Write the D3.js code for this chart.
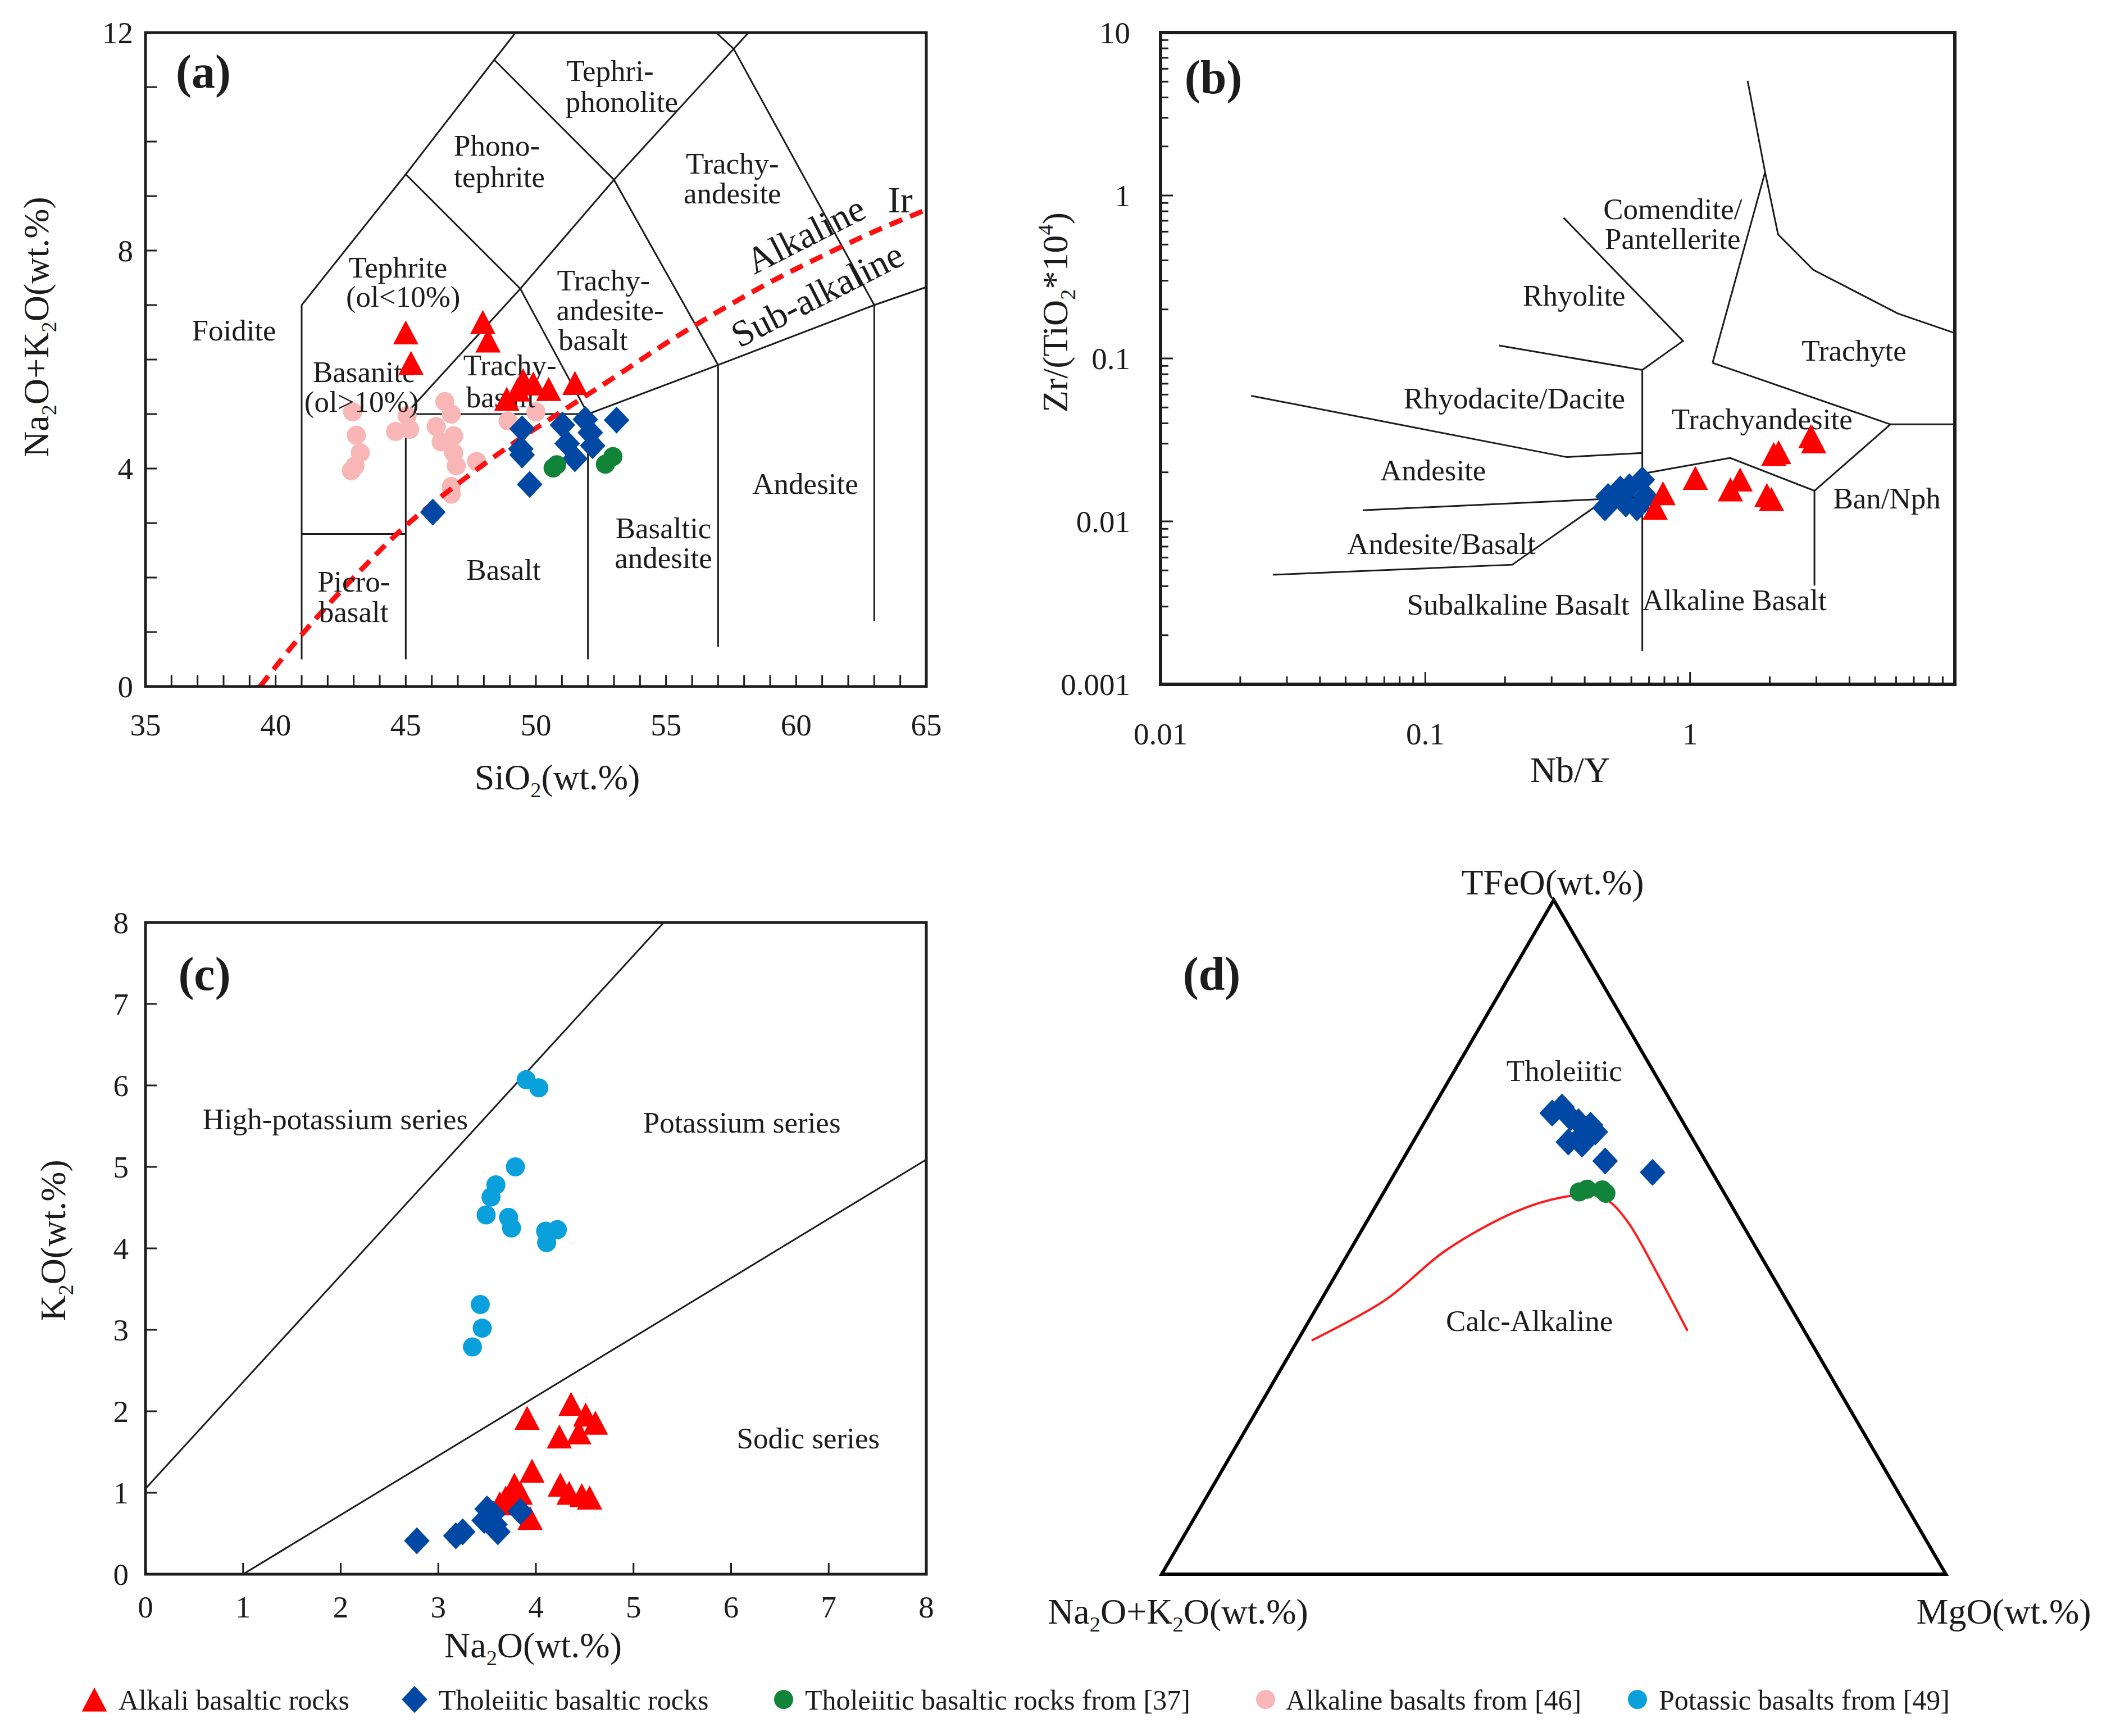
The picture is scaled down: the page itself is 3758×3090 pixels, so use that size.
<!DOCTYPE html>
<html><head><meta charset="utf-8">
<script src="https://cdn.jsdelivr.net/npm/d3@7"></script>
<style>
body{margin:0;background:#fff;}
text{font-family:"Liberation Serif","Times New Roman",serif;fill:#1c1c1c;}
</style>
</head><body>
<svg id="chart" width="3758" height="3090" xmlns="http://www.w3.org/2000/svg"></svg>
<script>
// ---------------- DATA ----------------
// (a) TAS diagram: [SiO2, Na2O+K2O]
const tasAlkali = [[45.0,6.50],[45.2,5.94],[47.96,6.69],[48.16,6.35],[48.88,5.28],[49.3,5.45],[49.51,5.62],[49.9,5.56],[50.49,5.46],[51.5,5.57]];
const tasTholeiitic = [[46.04,3.2],[49.47,4.73],[49.42,4.36],[49.47,4.25],[49.76,3.71],[51.02,4.8],[51.2,4.46],[51.9,4.9],[51.5,4.18],[52.18,4.42],[53.1,4.89],[52.09,4.66]];
const tasTholeiitic37 = [[50.66,4.01],[50.8,4.07],[52.67,4.08],[52.96,4.22]];
const tasAlkaline46 = [[42.96,5.04],[43.1,4.61],[43.25,4.29],[42.91,3.96],[43.05,4.05],[44.61,4.68],[45.05,4.97],[45.15,4.72],[46.5,5.23],[46.75,5.0],[46.17,4.77],[46.84,4.6],[46.36,4.49],[46.84,4.29],[46.94,4.05],[47.72,4.13],[46.75,3.67],[46.75,3.53],[48.93,4.87],[50.0,5.04]];
const tasBoundaries = [
  [[41,0.5],[41,7],[45,9.4],[48.4,11.5],[49.22,12]],
  [[41,2.8],[45,2.8]],
  [[45,0.5],[45,5],[52,5]],
  [[45,5],[49.4,7.3],[53,9.3],[57.6,11.7],[58.17,12]],
  [[45,9.4],[49.4,7.3],[52,5]],
  [[52,0.5],[52,5],[57,5.9],[63,7],[65,7.33]],
  [[57,0.73],[57,5.9],[53,9.3],[48.4,11.5]],
  [[63,1.2],[63,7],[57.6,11.7],[56.93,12]]
];
const irvineCurve = [[39.4,0],[41,0.95],[43,2.0],[45,2.95],[47,3.72],[49,4.42],[51,5.05],[53,5.67],[55,6.3],[57,6.88],[59,7.42],[61,7.9],[63,8.35],[65,8.75]];
const tasLabels = [
  ["Tephri-",52.85,11.3],["phonolite",53.3,10.74],["Phono-",48.5,9.93],["tephrite",48.6,9.36],
  ["Trachy-",57.55,9.6],["andesite",57.55,9.06],["Tephrite",44.7,7.7],["(ol<10%)",44.9,7.16],
  ["Foidite",38.4,6.54],["Trachy-",52.6,7.46],["andesite-",52.85,6.91],["basalt",52.2,6.37],
  ["Basanite",43.4,5.78],["(ol>10%)",43.3,5.23],["Trachy-",49.0,5.9],["basalt",48.65,5.32],
  ["Andesite",60.35,3.73],["Basaltic",54.9,2.91],["andesite",54.9,2.37],["Basalt",48.76,2.15],
  ["Picro-",43.0,1.93],["basalt",43.0,1.38]
];
const tasXTicks = [35,40,45,50,55,60,65];
const tasYTicks = [0,4,8,12];

// (b) Nb/Y vs Zr/(TiO2*10^4)
const wfAlkali = [[0.79,0.0149],[0.738,0.0121],[1.047,0.0185],[1.545,0.0181],[1.42,0.0157],[1.95,0.0145],[2.03,0.0137],[2.16,0.0266],[2.07,0.0259],[2.86,0.0333],[2.93,0.031]];
const wfTholeiitic = [[0.477,0.0121],[0.49,0.0142],[0.545,0.0158],[0.572,0.0128],[0.59,0.0163],[0.63,0.0121],[0.66,0.018],[0.68,0.0142]];
const wfBoundaries = [
  [[0.333,0.73],[0.94,0.128],[0.66,0.085],[0.66,0.0016]],
  [[0.19,0.12],[0.66,0.085]],
  [[0.022,0.059],[0.342,0.0248],[0.66,0.0263]],
  [[0.058,0.0117],[0.51,0.0138],[0.66,0.0142]],
  [[0.0266,0.0047],[0.213,0.00542],[0.66,0.0196],[1.416,0.0245],[2.95,0.0154],[2.95,0.00404]],
  [[2.95,0.0154],[5.71,0.0394],[10,0.0394]],
  [[1.216,0.094],[5.71,0.0394]],
  [[1.216,0.094],[1.92,1.39],[1.65,5.05]],
  [[1.92,1.39],[2.15,0.577],[2.92,0.35],[6.08,0.189],[10,0.143]]
];
const wfLabels = [
  ["Comendite/",0.86,0.83],["Pantellerite",0.86,0.545],["Rhyolite",0.365,0.244],["Trachyte",4.16,0.112],
  ["Rhyodacite/Dacite",0.217,0.057],["Trachyandesite",1.87,0.0425],["Andesite",0.107,0.0207],
  ["Ban/Nph",5.54,0.0139],["Andesite/Basalt",0.115,0.0073],["Subalkaline Basalt",0.224,0.0031],["Alkaline Basalt",1.47,0.0033]
];
const wfXTicks = [0.01,0.1,1];
const wfXTickLabels = ["0.01","0.1","1"];
const wfYTicks = [10,1,0.1,0.01,0.001];
const wfYTickLabels = ["10","1","0.1","0.01","0.001"];

// (c) Na2O vs K2O
const kPotassic49 = [[3.9,6.07],[4.03,5.97],[3.79,5.0],[3.59,4.78],[3.54,4.63],[3.49,4.41],[3.72,4.38],[3.75,4.25],[4.1,4.21],[4.22,4.23],[4.11,4.07],[3.43,3.31],[3.45,3.02],[3.35,2.79]];
const kAlkali = [[3.91,1.92],[4.36,2.09],[4.51,1.96],[4.61,1.86],[4.24,1.69],[4.44,1.74],[3.96,1.27],[4.25,1.10],[4.34,1.0],[4.47,0.97],[4.55,0.94],[3.78,1.10],[3.69,0.94],[3.84,1.0],[3.94,0.69],[3.63,0.87]];
const kTholeiitic = [[2.78,0.41],[3.18,0.47],[3.25,0.52],[3.5,0.8],[3.56,0.74],[3.47,0.66],[3.61,0.52],[3.58,0.61],[3.84,0.77]];
const kBoundaries = [[[0,1.05],[5.31,8]],[[1.0,0],[8,5.09]]];
const kLabels = [["High-potassium series",1.945,5.59],["Potassium series",6.11,5.55],["Sodic series",6.79,1.67]];
const kTicks = [0,1,2,3,4,5,6,7,8];

// (d) AFM ternary: [A = Na2O+K2O, F = TFeO, M = MgO] (%)
const afmTholeiitic = [[16.0,68.4,15.6],[14.3,69.3,16.4],[14.0,67.7,18.3],[13.3,67.1,19.6],[12.0,66.6,21.4],[11.9,65.6,22.5],[13.4,65.4,21.2],[16.1,64.1,19.8],[14.5,63.8,21.7],[12.8,61.3,25.9],[7.6,59.6,32.8]];
const afmTholeiitic37 = [[18.4,56.7,24.9],[17.2,57.1,25.7],[15.3,57.0,27.7],[15.1,56.5,28.4]];
const afmBoundary = [[63.6,34.7,1.8],[51.1,40.7,8.2],[39.8,48.0,12.2],[27.9,53.8,18.3],[21.0,55.9,23.1],[16.3,56.1,27.5],[15.1,55.0,29.9],[14.4,51.9,33.7],[14.5,44.6,40.9],[14.9,36.1,49.0]];
const afmLabels = [["Tholeiitic",11.3,74.7,14.0],["Calc-Alkaline",34.3,37.6,28.1]];

// legend
const legendNames = ["Alkali basaltic rocks","Tholeiitic basaltic rocks","Tholeiitic basaltic rocks from [37]","Alkaline basalts from [46]","Potassic basalts from [49]"];

// ---------------- DRAWING ----------------
const svg = d3.select("#chart");
svg.append("rect").attr("width",3758).attr("height",3090).attr("fill","#fff");
const ink = "#1c1c1c";
const col = {red:"#ff0000", blue:"#0048a3", green:"#12843a", pink:"#f8b6b6", cyan:"#0aa0dc"};
const fs = {tick:55, title:64, region:53, panel:84, legend:50};

function triPath(s){const h=s*0.95;return `M0,${-h/2}L${s/2},${h/2}L${-s/2},${h/2}Z`;}
function diaPath(r){return `M0,${-r}L${r*0.95},0L0,${r}L${-r*0.95},0Z`;}
const shapes = {
  tri: g=>g.append("path").attr("d",triPath(45)),
  dia: g=>g.append("path").attr("d",diaPath(24)),
  cir: g=>g.append("circle").attr("r",17)
};
function markers(g, data, px, py, shape, color){
  data.forEach(d=>{
    const m = g.append("g").attr("transform",`translate(${px(d)},${py(d)})`).attr("fill",color);
    shapes[shape](m);
  });
}
function rich(text, parts, size){
  let shift=0;
  parts.forEach(([t,m])=>{
    const target = m==="sub"? size*0.22 : m==="sup"? -size*0.4 : 0;
    text.append("tspan").attr("dy",target-shift).attr("font-size",m?size*0.6:size).text(t);
    shift=target;
  });
}
const line = d3.line();

// ---------- Panel (a) ----------
const gA = svg.append("g");
const ax = d3.scaleLinear().domain([35,65]).range([259,1649]);
const ay = d3.scaleLinear().domain([0,12]).range([1222,58]);
svg.append("clipPath").attr("id","clipA").append("rect")
  .attr("x",ax(35)).attr("y",ay(12)).attr("width",ax(65)-ax(35)).attr("height",ay(0)-ay(12));
tasBoundaries.forEach(b=>{
  gA.append("path").attr("d",line(b.map(p=>[ax(p[0]),ay(p[1])])))
    .attr("fill","none").attr("stroke",ink).attr("stroke-width",3);
});
markers(gA, tasAlkaline46, d=>ax(d[0]), d=>ay(d[1]), "cir", col.pink);
gA.append("path").attr("clip-path","url(#clipA)")
  .attr("d",d3.line().curve(d3.curveCatmullRom)(irvineCurve.map(p=>[ax(p[0]),ay(p[1])])))
  .attr("fill","none").attr("stroke","#ff1010").attr("stroke-width",9).attr("stroke-dasharray","24,15");
tasLabels.forEach(([t,x,y])=>{
  gA.append("text").attr("x",ax(x)).attr("y",ay(y)).attr("dy","0.35em").attr("text-anchor","middle")
    .attr("font-size",fs.region).text(t);
});
gA.append("text").attr("transform",`translate(${ax(60.35)},${ay(8.3)}) rotate(-27)`).attr("text-anchor","middle")
  .attr("dy","0.35em").attr("font-size",66).text("Alkaline");
gA.append("text").attr("transform",`translate(${ax(60.8)},${ay(7.2)}) rotate(-27)`).attr("text-anchor","middle")
  .attr("dy","0.35em").attr("font-size",66).text("Sub-alkaline");
gA.append("text").attr("x",ax(64.0)).attr("y",ay(8.94)).attr("dy","0.35em").attr("text-anchor","middle")
  .attr("font-size",66).text("Ir");
markers(gA, tasAlkali, d=>ax(d[0]), d=>ay(d[1]), "tri", col.red);
markers(gA, tasTholeiitic, d=>ax(d[0]), d=>ay(d[1]), "dia", col.blue);
markers(gA, tasTholeiitic37, d=>ax(d[0]), d=>ay(d[1]), "cir", col.green);
// ticks
d3.range(35,66).forEach(v=>gA.append("line").attr("x1",ax(v)).attr("x2",ax(v)).attr("y1",ay(0)).attr("y2",ay(0)-20).attr("stroke",ink).attr("stroke-width",3));
d3.range(0,13).forEach(v=>gA.append("line").attr("x1",ax(35)).attr("x2",ax(35)+20).attr("y1",ay(v)).attr("y2",ay(v)).attr("stroke",ink).attr("stroke-width",3));
gA.append("rect").attr("x",ax(35)).attr("y",ay(12)).attr("width",ax(65)-ax(35)).attr("height",ay(0)-ay(12))
  .attr("fill","none").attr("stroke",ink).attr("stroke-width",5);
tasXTicks.forEach(v=>gA.append("text").attr("x",ax(v)).attr("y",1290).attr("dy","0.35em").attr("text-anchor","middle").attr("font-size",fs.tick).text(v));
tasYTicks.forEach(v=>gA.append("text").attr("x",ax(35)-22).attr("y",ay(v)).attr("dy","0.35em").attr("text-anchor","end").attr("font-size",fs.tick).text(v));
rich(gA.append("text").attr("x",992).attr("y",1405).attr("text-anchor","middle"),[["SiO",""],["2","sub"],["(wt.%)",""]],fs.title);
rich(gA.append("text").attr("transform","translate(86,582) rotate(-90)").attr("text-anchor","middle"),
  [["Na",""],["2","sub"],["O+K",""],["2","sub"],["O(wt.%)",""]],fs.title);
gA.append("text").attr("x",362).attr("y",127).attr("dy","0.35em").attr("text-anchor","middle").attr("font-weight","bold").attr("font-size",fs.panel).text("(a)");

// ---------- Panel (b) ----------
const gB = svg.append("g");
const bx = d3.scaleLog().domain([0.01,10]).range([2066,3480]);
const by = d3.scaleLog().domain([0.001,10]).range([1218,58]);
wfBoundaries.forEach(b=>{
  gB.append("path").attr("d",line(b.map(p=>[bx(p[0]),by(p[1])])))
    .attr("fill","none").attr("stroke",ink).attr("stroke-width",3);
});
wfLabels.forEach(([t,x,y])=>{
  gB.append("text").attr("x",bx(x)).attr("y",by(y)).attr("dy","0.35em").attr("text-anchor","middle")
    .attr("font-size",fs.region).text(t);
});
markers(gB, wfTholeiitic, d=>bx(d[0]), d=>by(d[1]), "dia", col.blue);
markers(gB, wfAlkali, d=>bx(d[0]), d=>by(d[1]), "tri", col.red);
[0.01,0.1,1].forEach(dec=>d3.range(1,10).forEach(k=>{
  const v=dec*k, len=k===1?22:14;
  gB.append("line").attr("x1",bx(v)).attr("x2",bx(v)).attr("y1",by(0.001)).attr("y2",by(0.001)-len).attr("stroke",ink).attr("stroke-width",3);
}));
[0.001,0.01,0.1,1].forEach(dec=>d3.range(1,10).forEach(k=>{
  const v=dec*k, len=k===1?22:14;
  gB.append("line").attr("x1",bx(0.01)).attr("x2",bx(0.01)+len).attr("y1",by(v)).attr("y2",by(v)).attr("stroke",ink).attr("stroke-width",3);
}));
gB.append("rect").attr("x",bx(0.01)).attr("y",by(10)).attr("width",bx(10)-bx(0.01)).attr("height",by(0.001)-by(10))
  .attr("fill","none").attr("stroke",ink).attr("stroke-width",6);
wfXTicks.forEach((v,i)=>gB.append("text").attr("x",bx(v)).attr("y",1306).attr("dy","0.35em").attr("text-anchor","middle").attr("font-size",fs.tick).text(wfXTickLabels[i]));
wfYTicks.forEach((v,i)=>gB.append("text").attr("x",bx(0.01)-54).attr("y",by(v)).attr("dy","0.35em").attr("text-anchor","end").attr("font-size",fs.tick).text(wfYTickLabels[i]));
rich(gB.append("text").attr("x",2795).attr("y",1392).attr("text-anchor","middle"),[["Nb/Y",""]],fs.title);
rich(gB.append("text").attr("transform","translate(1900,556) rotate(-90)").attr("text-anchor","middle"),
  [["Zr/(TiO",""],["2","sub"],["*10",""],["4","sup"],[")",""]],fs.title);
gB.append("text").attr("x",2160).attr("y",137).attr("dy","0.35em").attr("text-anchor","middle").attr("font-weight","bold").attr("font-size",fs.panel).text("(b)");

// ---------- Panel (c) ----------
const gC = svg.append("g");
const cx = d3.scaleLinear().domain([0,8]).range([259,1649]);
const cy = d3.scaleLinear().domain([0,8]).range([2802,1642]);
kBoundaries.forEach(b=>{
  gC.append("path").attr("d",line(b.map(p=>[cx(p[0]),cy(p[1])])))
    .attr("fill","none").attr("stroke",ink).attr("stroke-width",3);
});
kLabels.forEach(([t,x,y])=>{
  gC.append("text").attr("x",cx(x)).attr("y",cy(y)).attr("dy","0.35em").attr("text-anchor","middle")
    .attr("font-size",fs.region).text(t);
});
markers(gC, kPotassic49, d=>cx(d[0]), d=>cy(d[1]), "cir", col.cyan);
markers(gC, kAlkali, d=>cx(d[0]), d=>cy(d[1]), "tri", col.red);
markers(gC, kTholeiitic, d=>cx(d[0]), d=>cy(d[1]), "dia", col.blue);
kTicks.forEach(v=>{
  gC.append("line").attr("x1",cx(v)).attr("x2",cx(v)).attr("y1",cy(0)).attr("y2",cy(0)-20).attr("stroke",ink).attr("stroke-width",3);
  gC.append("line").attr("x1",cx(0)).attr("x2",cx(0)+20).attr("y1",cy(v)).attr("y2",cy(v)).attr("stroke",ink).attr("stroke-width",3);
});
gC.append("rect").attr("x",cx(0)).attr("y",cy(8)).attr("width",cx(8)-cx(0)).attr("height",cy(0)-cy(8))
  .attr("fill","none").attr("stroke",ink).attr("stroke-width",5);
kTicks.forEach(v=>gC.append("text").attr("x",cx(v)).attr("y",2860).attr("dy","0.35em").attr("text-anchor","middle").attr("font-size",fs.tick).text(v));
kTicks.forEach(v=>gC.append("text").attr("x",cx(0)-30).attr("y",cy(v)).attr("dy","0.35em").attr("text-anchor","end").attr("font-size",fs.tick).text(v));
rich(gC.append("text").attr("x",949).attr("y",2950).attr("text-anchor","middle"),[["Na",""],["2","sub"],["O(wt.%)",""]],fs.title);
rich(gC.append("text").attr("transform","translate(116,2208) rotate(-90)").attr("text-anchor","middle"),
  [["K",""],["2","sub"],["O(wt.%)",""]],fs.title);
gC.append("text").attr("x",364).attr("y",1733).attr("dy","0.35em").attr("text-anchor","middle").attr("font-weight","bold").attr("font-size",fs.panel).text("(c)");

// ---------- Panel (d) ----------
const gD = svg.append("g");
const dx = d3.scaleLinear().domain([0,1]).range([2068,3464]);
const dy = d3.scaleLinear().domain([0,1]).range([2802,1602]);
function tern(p){const s=p[0]+p[1]+p[2];const f=p[1]/s,m=p[2]/s;return [dx(m+f/2),dy(f)];}
gD.append("path").attr("d",line([[0,0],[0.5,1],[1,0]].map(p=>[dx(p[0]),dy(p[1])]))+"Z")
  .attr("fill","none").attr("stroke","#000").attr("stroke-width",6).attr("stroke-linejoin","miter");
gD.append("path").attr("d",d3.line().curve(d3.curveCatmullRom)(afmBoundary.map(tern)))
  .attr("fill","none").attr("stroke","#ff1a1a").attr("stroke-width",4);
afmLabels.forEach(([t,a,f,m])=>{
  const [x,y]=tern([a,f,m]);
  gD.append("text").attr("x",x).attr("y",y).attr("dy","0.35em").attr("text-anchor","middle").attr("font-size",fs.region).text(t);
});
markers(gD, afmTholeiitic, d=>tern(d)[0], d=>tern(d)[1], "dia", col.blue);
markers(gD, afmTholeiitic37, d=>tern(d)[0], d=>tern(d)[1], "cir", col.green);
rich(gD.append("text").attr("x",2764).attr("y",1592).attr("text-anchor","middle"),[["TFeO(wt.%)",""]],fs.title);
rich(gD.append("text").attr("x",2097).attr("y",2890).attr("text-anchor","middle"),[["Na",""],["2","sub"],["O+K",""],["2","sub"],["O(wt.%)",""]],fs.title);
rich(gD.append("text").attr("x",3567).attr("y",2890).attr("text-anchor","middle"),[["MgO(wt.%)",""]],fs.title);
gD.append("text").attr("x",2157).attr("y",1733).attr("dy","0.35em").attr("text-anchor","middle").attr("font-weight","bold").attr("font-size",fs.panel).text("(d)");

// ---------- Legend ----------
const gL = svg.append("g");
const legendShapes = ["tri","dia","cir","cir","cir"];
const legendCols = [col.red,col.blue,col.green,col.pink,col.cyan];
const legendMarkX = [168,738,1395,2253,2915];
const legendTextX = [211,781,1433,2289,2953];
legendNames.forEach((n,i)=>{
  const m = gL.append("g").attr("transform",`translate(${legendMarkX[i]},3025)`).attr("fill",legendCols[i]);
  shapes[legendShapes[i]](m);
  gL.append("text").attr("x",legendTextX[i]).attr("y",3025).attr("dy","0.35em").attr("font-size",fs.legend).text(n);
});
</script>
</body></html>
